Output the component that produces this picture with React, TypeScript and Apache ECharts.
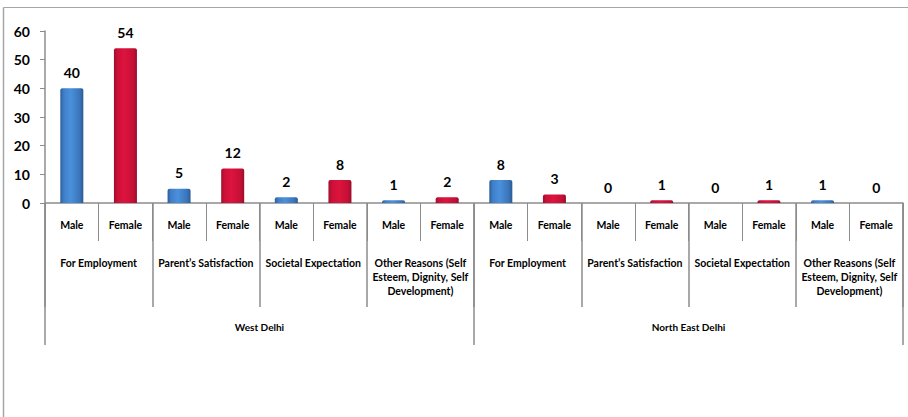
import React, { useEffect, useRef } from "react";
import * as echarts from "echarts";

const regions = ["West Delhi", "North East Delhi"];
const reasons = [
  "For Employment",
  "Parent\u2019s Satisfaction",
  "Societal Expectation",
  "Other Reasons (Self\nEsteem, Dignity, Self\nDevelopment)",
];
const genders = ["Male", "Female"];
const westMale = [40, 5, 2, 1];
const westFemale = [54, 12, 8, 2];
const neMale = [8, 0, 0, 1];
const neFemale = [3, 1, 1, 0];
const yTicks = [0, 10, 20, 30, 40, 50, 60];

const FONT = "Lato, 'Liberation Sans', sans-serif";

const blueGrad = new echarts.graphic.LinearGradient(0, 0, 1, 0, [
  { offset: 0, color: "#2b5d9b" },
  { offset: 0.15, color: "#3f7fc8" },
  { offset: 0.45, color: "#4a90dc" },
  { offset: 0.85, color: "#3a74b8" },
  { offset: 1, color: "#2a5a94" },
]);
const redGrad = new echarts.graphic.LinearGradient(0, 0, 1, 0, [
  { offset: 0, color: "#9e0f2c" },
  { offset: 0.15, color: "#cc1038" },
  { offset: 0.45, color: "#dc143e" },
  { offset: 0.85, color: "#c40f35" },
  { offset: 1, color: "#980d2a" },
]);

export default function App() {
  const ref = useRef<HTMLDivElement>(null);
  useEffect(() => {
    document.body.style.margin = "0";
    if (!ref.current) return;
    const chart = echarts.init(ref.current, undefined, { renderer: "svg" });

    const values = [
      [westMale, westFemale],
      [neMale, neFemale],
    ];
    const genderCats: string[] = [];
    const reasonCats: string[] = [];
    const data: any[] = [];
    regions.forEach((_, ri) => {
      reasons.forEach((reason, qi) => {
        reasonCats.push(reason);
        genders.forEach((g, gi) => {
          genderCats.push(g);
          data.push({
            value: values[ri][gi][qi],
            itemStyle: { color: gi === 0 ? blueGrad : redGrad },
          });
        });
      });
    });

    const tickColor = "#8c8c8c";
    chart.setOption({
      animation: false,
      grid: { left: 45, right: 5, top: 31, bottom: 214, containLabel: false },
      graphic: [
        {
          type: "line",
          shape: { x1: 3.5, y1: 7.5, x2: 908, y2: 7.5 },
          style: { stroke: "#a6a6a6", lineWidth: 1 },
          silent: true,
        },
        {
          type: "line",
          shape: { x1: 3.5, y1: 7.5, x2: 3.5, y2: 417 },
          style: { stroke: "#a6a6a6", lineWidth: 1.5 },
          silent: true,
        },
      ],
      xAxis: [
        {
          type: "category",
          data: genderCats,
          axisLine: { show: true, lineStyle: { color: tickColor, width: 1.5 } },
          axisTick: { show: true, interval: 0, length: 38, lineStyle: { color: tickColor } },
          axisLabel: {
            interval: 0,
            margin: 16,
            fontFamily: FONT,
            fontWeight: "bold",
            fontSize: 10.5,
            color: "#000",
          },
        },
        {
          type: "category",
          data: reasonCats,
          position: "bottom",
          axisLine: { show: false },
          axisTick: { show: true, interval: 0, length: 104, lineStyle: { color: tickColor, width: 1.5 } },
          axisLabel: {
            interval: 0,
            margin: 53,
            fontFamily: FONT,
            fontWeight: "bold",
            fontSize: 10.5,
            lineHeight: 14,
            color: "#000",
          },
        },
        {
          type: "category",
          data: regions,
          position: "bottom",
          axisLine: { show: false },
          axisTick: { show: true, interval: 0, length: 142, lineStyle: { color: tickColor, width: 1.5 } },
          axisLabel: {
            interval: 0,
            margin: 119,
            fontFamily: FONT,
            fontWeight: "bold",
            fontSize: 10,
            color: "#000",
          },
        },
      ],
      yAxis: {
        type: "value",
        min: 0,
        max: yTicks[yTicks.length - 1],
        interval: yTicks[1] - yTicks[0],
        axisLine: { show: true, lineStyle: { color: tickColor, width: 1.5 } },
        axisTick: { show: true, length: 5, lineStyle: { color: tickColor } },
        splitLine: { show: false },
        axisLabel: {
          margin: 15,
          fontFamily: FONT,
          fontWeight: "bold",
          fontSize: 14,
          color: "#000",
        },
      },
      series: [
        {
          type: "bar",
          xAxisIndex: 0,
          data,
          barWidth: 23,
          itemStyle: { borderRadius: [2, 2, 0, 0] },
          label: {
            show: true,
            position: "top",
            distance: 9,
            fontFamily: FONT,
            fontWeight: "bold",
            fontSize: 14,
            color: "#000",
          },
        },
      ],
    });
    return () => chart.dispose();
  }, []);
  return <div ref={ref} style={{ width: 908, height: 417 }} />;
}
